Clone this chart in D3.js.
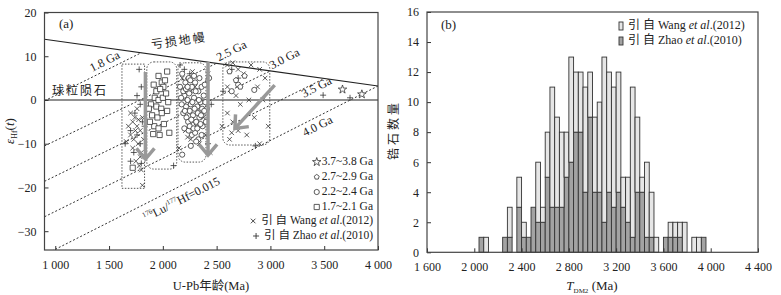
<!DOCTYPE html>
<html>
<head>
<meta charset="utf-8">
<script src="https://cdn.jsdelivr.net/npm/d3@7"></script>
<style>
  body { margin: 0; background: #fff; }
  svg { display: block; font-family: "Liberation Serif", "Times New Roman", "Noto Sans CJK SC", serif; }
</style>
</head>
<body>
<svg id="chart" width="781" height="295"></svg>
<script>
// ---------- panel (a): [U-Pb age (Ma), eHf(t)] ----------
const stars = [[3670, 2.4], [3850, 1.3]];
const pentagons = [[2620, 6.5], [2680, 4.5], [2720, 3], [2760, 5.5]];
const circles = [
  [2180, 6], [2210, 4], [2240, 5], [2270, 3], [2300, 4], [2330, 2], [2360, 3], [2200, 1],
  [2230, 0], [2260, -1], [2290, 0.5], [2320, -1.5], [2350, -0.5], [2380, 1], [2410, -2],
  [2190, -3], [2220, -4], [2250, -2.5], [2280, -3.5], [2310, -5], [2340, -4], [2370, -6],
  [2400, -5], [2200, -6.5], [2240, -7], [2270, -8], [2300, -7.5], [2330, -9], [2360, -8],
  [2180, -12.5], [2260, -10.5], [2640, 2], [2700, 3.5], [2850, 2.3], [2160, 3], [2430, 5],
  [2190, 2], [2215, -1.5], [2245, 1.5], [2275, -0.5], [2305, 2], [2335, 0], [2365, -2],
  [2395, -0.5], [2175, -1], [2205, -2.5], [2235, -5], [2265, -4.5], [2295, -2], [2325, -3],
  [2355, -3.5], [2385, -2.5], [2215, 2.5], [2250, -6], [2285, -6.5], [2320, -6.5], [2350, -5.5],
  [2230, 3], [2290, 5.5], [2340, 5], [2390, 3.5], [2170, 0.5], [2255, 4.5], [2310, -9.5]
];
const squares = [
  [1960, 5.5], [1990, 4], [2005, 3], [1940, 2], [1975, 2.5], [1925, 0.5], [1960, 0], [2000, 0.5],
  [1890, -1], [1940, -1.5], [1985, -2], [2040, -2.5], [1900, -3.5], [1950, -4], [1990, -3],
  [1920, -6], [1960, -6.5], [1880, -5], [2010, -5.5], [1970, -8], [2060, -7.5], [1720, -15.5],
  [2030, 1.5], [1870, -2], [1910, -7.8], [2040, 6.5], [2020, 4.5], [1915, 3.5], [2050, -0.5]
];
const wangPts = [
  [1700, -3], [1720, -5], [1740, -4], [1760, -6], [1700, -8], [1730, -9], [1770, -10], [1790, -7],
  [1800, -12], [1750, -14], [1780, -15], [1800, -16], [1810, -19.5], [1790, -13], [1720, -11],
  [1680, -6], [1760, -2], [1810, -4], [1820, -9], [1660, -9.5], [1745, -7], [1775, -4.5],
  [2180, 5], [2220, 4], [2260, 2], [2300, 3], [2200, -1], [2240, -3], [2280, -5], [2320, -2],
  [2350, 0], [2380, -4], [2210, -7], [2260, -9], [2310, -6], [2400, -8], [2420, 6], [2190, 1],
  [2340, -10], [2440, -12], [2150, -11], [2230, -8.5], [2370, -3], [2275, 6.5],
  [2600, 8], [2650, 8.5], [2700, 7], [2750, 6], [2820, 8], [2900, 7], [2950, 5], [2600, 3],
  [2680, 1], [2720, -1], [2800, 0], [2880, 3], [2930, 0], [2600, -3], [2650, -5], [2700, -7],
  [2780, -8], [2850, -4], [2980, -6], [2620, -9], [2900, -10], [2550, -6], [2640, -7.5]
];
const zhaoPts = [
  [1780, 7], [1800, 3], [1760, 1], [1790, -1], [1740, -3], [1810, -5], [1700, -7], [1760, -8],
  [1790, -10], [1730, -12], [1700, -14], [1800, -14.5], [1830, -6], [1650, -10],
  [2100, -15], [2160, 8], [2200, 7], [2250, 6], [2400, 4], [2450, -1], [2420, -10],
  [2560, 2], [2640, 7], [2700, 5], [2860, -10.5], [3490, 1.1], [3740, 0.5]
];

// evolution lines (176Lu/177Hf = 0.015), from the depleted mantle down to the left
const modelAgeLabels = ["1.8 Ga", "2.5 Ga", "3.0 Ga", "3.5 Ga", "4.0 Ga"];
const evoTop = [[1800, 10.8], [2500, 8.4], [3000, 6.65], [3500, 4.9], [4000, 3.2]];
const evoBottom = [[900, -0.2], [900, -10.5], [900, -18.6], [900, -26.7], [900, -35.4]];
const dmLine = [[900, 13.9], [4000, 3.2]];
const churLine = [[900, 0], [4000, 0]];

// dotted outlines of the age groups: [age0, age1, eHf top, eHf bottom]
const fieldBoxes = [[1620, 1830, 8.2, -20.2], [1851, 2129, 8.7, -15.8], [2141, 2401, 8.5, -14.2], [2558, 2994, 8.7, -10.3]];
// grey arrows: [age from, eHf from, age to, eHf to]
const arrows = [[1838, 6.4, 1838, -13.5], [2420, 8.7, 2420, -12.6], [3040, 3.4, 2670, -6.5]];

const xTicksA = [1000, 1500, 2000, 2500, 3000, 3500, 4000];
const yTicksA = [-30, -20, -10, 0, 10, 20];

// ---------- panel (b): T_DM2 histogram, 40 Ma bins ----------
const binStarts = [2000, 2040, 2080, 2120, 2160, 2200, 2240, 2280, 2320, 2360,
  2400, 2440, 2480, 2520, 2560, 2600, 2640, 2680, 2720, 2760,
  2800, 2840, 2880, 2920, 2960, 3000, 3040, 3080, 3120, 3160,
  3200, 3240, 3280, 3320, 3360, 3400, 3440, 3480, 3520, 3560,
  3600, 3640, 3680, 3720, 3760, 3800, 3840, 3880, 3920, 3960];
const zhaoCounts = [0, 1, 0, 0, 0, 0, 1, 1, 0, 3,
  1, 1, 3, 2, 2, 5, 3, 3, 3, 5,
  6, 8, 8, 4, 9, 4, 4, 2, 4, 3,
  4, 3, 2, 1, 4, 4, 1, 1, 0, 0,
  1, 1, 1, 1, 0, 0, 0, 0, 1, 0];
const wangCounts = [0, 0, 1, 0, 0, 0, 0, 2, 0, 2,
  1, 0, 0, 4, 1, 3, 8, 6, 5, 3,
  7, 4, 4, 7, 3, 5, 6, 11, 8, 8,
  8, 2, 3, 10, 5, 1, 5, 3, 1, 0,
  0, 1, 1, 1, 2, 0, 1, 1, 0, 0];
const binWidth = 40;
const xTicksB = [1600, 2000, 2400, 2800, 3200, 3600, 4000, 4400];
const yTicksB = [0, 2, 4, 6, 8, 10, 12, 14, 16];

const svg = d3.select("#chart");
const ink = "#333";
const fmtThousands = d => d >= 1000 ? String(Math.floor(d / 1000)) + " " + String(d % 1000).padStart(3, "0") : String(d);

// ================= panel (a) =================
const xA = d3.scaleLinear().domain([900, 4000]).range([44.5, 378]);
const yA = d3.scaleLinear().domain([-34.3, 20]).range([250, 12.5]);

svg.append("clipPath").attr("id", "clipA")
  .append("rect").attr("x", 44.5).attr("y", 12.5).attr("width", 378 - 44.5).attr("height", 250 - 12.5);

const gA = svg.append("g");
const plotA = gA.append("g").attr("clip-path", "url(#clipA)");
const line = d3.line().x(d => xA(d[0])).y(d => yA(d[1]));

// reference lines
plotA.append("path").attr("d", line(dmLine)).attr("stroke", "#222").attr("stroke-width", 1.1).attr("fill", "none");
plotA.append("path").attr("d", line(churLine)).attr("stroke", "#222").attr("stroke-width", 1.1).attr("fill", "none");
evoTop.forEach((p, i) => {
  plotA.append("path").attr("d", line([evoBottom[i], p]))
    .attr("stroke", "#333").attr("stroke-width", 1).attr("stroke-dasharray", "2,2").attr("fill", "none");
});

// field outlines
fieldBoxes.forEach((b, i) => {
  plotA.append("rect")
    .attr("x", xA(b[0])).attr("y", yA(b[2]))
    .attr("width", xA(b[1]) - xA(b[0])).attr("height", yA(b[3]) - yA(b[2]))
    .attr("rx", i === 0 ? 0 : 7)
    .attr("fill", "none").attr("stroke", "#444").attr("stroke-width", 0.9).attr("stroke-dasharray", "1.5,1.5");
});

// symbols
const symPath = {
  square: r => `M${-r},${-r}H${r}V${r}H${-r}Z`,
  circle: r => d3.symbol(d3.symbolCircle, Math.PI * r * r)(),
  times: r => `M${-r},${-r}L${r},${r}M${-r},${r}L${r},${-r}`,
  plus: r => `M${-r},0H${r}M0,${-r}V${r}`,
  pentagon: r => d3.line()(d3.range(5).map(k => [r * Math.sin(k * 2 * Math.PI / 5), -r * Math.cos(k * 2 * Math.PI / 5)])) + "Z",
  star: r => d3.symbol(d3.symbolStar, r * r * 2.2)()
};
function drawPts(data, kind, r, fill) {
  plotA.append("g").selectAll("path").data(data).join("path")
    .attr("transform", d => `translate(${xA(d[0])},${yA(d[1])})`)
    .attr("d", symPath[kind](r))
    .attr("fill", fill).attr("stroke", "#333").attr("stroke-width", 0.8);
}
drawPts(wangPts, "times", 2.3, "none");
drawPts(zhaoPts, "plus", 3, "none");
drawPts(circles, "circle", 2.6, "white");
drawPts(squares, "square", 2.6, "white");
drawPts(pentagons, "pentagon", 2.8, "white");
drawPts(stars, "star", 3.2, "white");

// arrows
arrows.forEach(a => {
  const x0 = xA(a[0]), y0 = yA(a[1]), x1 = xA(a[2]), y1 = yA(a[3]);
  const ang = Math.atan2(y1 - y0, x1 - x0);
  const hl = 14, spread = 0.7;
  plotA.append("line").attr("x1", x0).attr("y1", y0).attr("x2", x1).attr("y2", y1)
    .attr("stroke", "#999").attr("stroke-width", 3.5);
  plotA.append("path")
    .attr("d", `M${x1 - hl * Math.cos(ang - spread)},${y1 - hl * Math.sin(ang - spread)}L${x1},${y1}L${x1 - hl * Math.cos(ang + spread)},${y1 - hl * Math.sin(ang + spread)}`)
    .attr("stroke", "#999").attr("stroke-width", 3.5).attr("fill", "none").attr("stroke-linejoin", "miter");
});

// line labels
const labelA = (txt, age, e, rot, size) => gA.append("text")
  .attr("transform", `translate(${xA(age)},${yA(e)}) rotate(${rot})`)
  .attr("text-anchor", "middle").attr("dominant-baseline", "middle")
  .attr("font-size", size || 12).attr("fill", "#222").text(txt);
const labelPos = [[1464, 8.6], [2643, 11], [3135, 9.2], [3434, 2.7], [3443, -6.2]];
modelAgeLabels.forEach((t, i) => labelA(t, labelPos[i][0], labelPos[i][1], -27));
labelA("亏损地幔", 2150, 13.2, -8, 12).attr("letter-spacing", 2);
labelA("球粒陨石", 1230, 1.8, 0, 12).attr("letter-spacing", 2);
const lu = gA.append("text")
  .attr("transform", `translate(${xA(2178)},${yA(-22.9)}) rotate(-27)`)
  .attr("text-anchor", "middle").attr("dominant-baseline", "middle")
  .attr("font-size", 12).attr("fill", "#222");
lu.append("tspan").attr("font-size", 7).attr("dy", -4).text("176");
lu.append("tspan").attr("dy", 4).text("Lu/");
lu.append("tspan").attr("font-size", 7).attr("dy", -4).text("177");
lu.append("tspan").attr("dy", 4).text("Hf=0.015");

gA.append("text").attr("x", 59).attr("y", 28).attr("font-size", 13).attr("fill", "#222").text("(a)");

// legend (a)
const legA = [["star", "3.7~3.8 Ga"], ["pentagon", "2.7~2.9 Ga"], ["circle", "2.2~2.4 Ga"], ["square", "1.7~2.1 Ga"]];
legA.forEach((l, i) => {
  const y = 162 + i * 15;
  const t = gA.append("text").attr("x", 373).attr("y", y).attr("text-anchor", "end")
    .attr("dominant-baseline", "middle").attr("font-size", 11.5).attr("fill", "#222").text(l[1]);
  const w = t.node().getComputedTextLength();
  gA.append("path").attr("transform", `translate(${373 - w - 5},${y})`)
    .attr("d", symPath[l[0]](l[0] === "star" ? 3.2 : 2.6)).attr("fill", "white").attr("stroke", "#333").attr("stroke-width", 0.8);
});
[["times", "Wang", "(2012)"], ["plus", "Zhao", "(2010)"]].forEach((l, i) => {
  const y = 221 + i * 15;
  const t = gA.append("text").attr("x", 373).attr("y", y).attr("text-anchor", "end")
    .attr("dominant-baseline", "middle").attr("font-size", 11.5).attr("fill", "#222");
  t.append("tspan").text("引 自 " + l[1] + " ");
  t.append("tspan").attr("font-style", "italic").text("et al");
  t.append("tspan").text("." + l[2]);
  const w = t.node().getComputedTextLength();
  gA.append("path").attr("transform", `translate(${373 - w - 8},${y})`)
    .attr("d", symPath[l[0]](l[0] === "plus" ? 3 : 2.3)).attr("fill", "none").attr("stroke", "#333").attr("stroke-width", 0.9);
});

// axes (a)
gA.append("g").attr("transform", "translate(0,250)")
  .call(d3.axisBottom(xA).tickValues(xTicksA).tickSize(-4).tickPadding(10).tickFormat(fmtThousands))
  .call(g => g.select(".domain").remove());
gA.append("g").attr("transform", "translate(44.5,0)")
  .call(d3.axisLeft(yA).tickValues(yTicksA).tickSize(-4).tickPadding(8).tickFormat(d => d < 0 ? "\u2212" + Math.abs(d) : d))
  .call(g => g.select(".domain").remove());
gA.append("rect").attr("x", 44.5).attr("y", 12.5).attr("width", 378 - 44.5).attr("height", 250 - 12.5)
  .attr("fill", "none").attr("stroke", "#444").attr("stroke-width", 1.2);

gA.append("text").attr("x", 211).attr("y", 290).attr("text-anchor", "middle").attr("font-size", 12.5).attr("fill", "#222").text("U-Pb年龄(Ma)");
const yl = gA.append("text").attr("transform", "translate(14,131) rotate(-90)").attr("text-anchor", "middle")
  .attr("font-size", 13).attr("fill", "#222");
yl.append("tspan").attr("font-style", "italic").text("ε");
yl.append("tspan").attr("font-size", 8).attr("dy", 3).text("Hf");
yl.append("tspan").attr("dy", -3).text("(");
yl.append("tspan").attr("font-style", "italic").text("t");
yl.append("tspan").text(")");

// ================= panel (b) =================
const xB = d3.scaleLinear().domain([1600, 4400]).range([427, 758]);
const yB = d3.scaleLinear().domain([0, 16]).range([252.3, 12]);
const gB = svg.append("g");

const bins = binStarts.map((b, i) => ({ x0: b, zhao: zhaoCounts[i], wang: wangCounts[i] }));
gB.append("g").selectAll("rect").data(bins.filter(d => d.zhao > 0)).join("rect")
  .attr("x", d => xB(d.x0)).attr("width", d => xB(d.x0 + binWidth) - xB(d.x0))
  .attr("y", d => yB(d.zhao)).attr("height", d => yB(0) - yB(d.zhao))
  .attr("fill", "#a3a3a3").attr("stroke", ink).attr("stroke-width", 0.9);
gB.append("g").selectAll("rect").data(bins.filter(d => d.wang > 0)).join("rect")
  .attr("x", d => xB(d.x0)).attr("width", d => xB(d.x0 + binWidth) - xB(d.x0))
  .attr("y", d => yB(d.zhao + d.wang)).attr("height", d => yB(d.zhao) - yB(d.zhao + d.wang))
  .attr("fill", "#e6e6e6").attr("stroke", ink).attr("stroke-width", 0.9);

gB.append("g").attr("transform", "translate(0,252.3)")
  .call(d3.axisBottom(xB).tickValues(xTicksB).tickSize(-4).tickPadding(10).tickFormat(fmtThousands))
  .call(g => g.select(".domain").remove());
gB.append("g").attr("transform", "translate(427,0)")
  .call(d3.axisLeft(yB).tickValues(yTicksB).tickSize(-4).tickPadding(8))
  .call(g => g.select(".domain").remove());
gB.append("rect").attr("x", 427).attr("y", 12).attr("width", 758 - 427).attr("height", 252.3 - 12)
  .attr("fill", "none").attr("stroke", "#444").attr("stroke-width", 1.2);

gB.append("text").attr("x", 441).attr("y", 29).attr("font-size", 13).attr("fill", "#222").text("(b)");
[["#e6e6e6", "Wang", "(2012)"], ["#a3a3a3", "Zhao", "(2010)"]].forEach((l, i) => {
  const y = 26 + i * 15;
  gB.append("rect").attr("x", 619).attr("y", y - 4).attr("width", 4).attr("height", 8)
    .attr("fill", l[0]).attr("stroke", ink).attr("stroke-width", 0.9);
  const t = gB.append("text").attr("x", 628).attr("y", y).attr("dominant-baseline", "middle")
    .attr("font-size", 12).attr("fill", "#222");
  t.append("tspan").text("引 自 " + l[1] + " ");
  t.append("tspan").attr("font-style", "italic").text("et al");
  t.append("tspan").text("." + l[2]);
});

const xl = gB.append("text").attr("x", 592).attr("y", 290).attr("text-anchor", "middle").attr("font-size", 13).attr("fill", "#222");
xl.append("tspan").attr("font-style", "italic").text("T");
xl.append("tspan").attr("font-size", 7).attr("dy", 3).text("DM2");
xl.append("tspan").attr("dy", -3).text(" (Ma)");
gB.append("text").attr("transform", "translate(398,130) rotate(-90)").attr("text-anchor", "middle")
  .attr("font-size", 12).attr("letter-spacing", 3).attr("fill", "#222").text("锆石数量");

svg.selectAll(".tick text").attr("font-size", 12).attr("fill", "#222").attr("font-family", "Liberation Serif, serif");
svg.selectAll(".tick line").attr("stroke", "#333");
</script>
</body>
</html>
